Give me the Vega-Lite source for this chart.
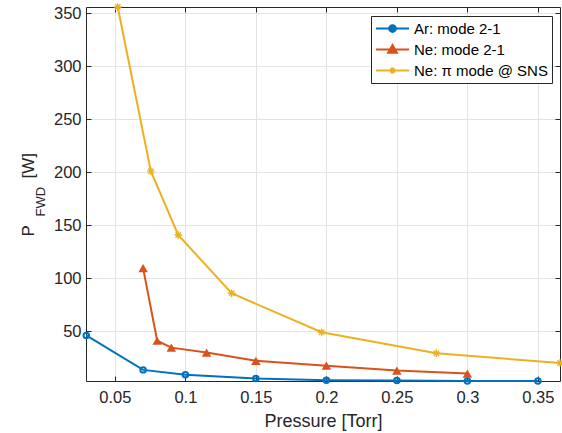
{
  "$schema": "https://vega.github.io/schema/vega-lite/v6.json",
  "width": 474,
  "height": 374,
  "autosize": {"type": "none"},
  "padding": {"left": 86, "top": 7, "right": 2, "bottom": 52},
  "background": "white",
  "config": {
    "view": {"stroke": null},
    "font": "Liberation Sans",
    "axis": {
      "domainColor": "#262626",
      "tickColor": "#262626",
      "labelColor": "#262626",
      "titleColor": "#262626",
      "labelFont": "Liberation Sans",
      "titleFont": "Liberation Sans",
      "labelFontSize": 16.5,
      "titleFontWeight": "normal",
      "gridColor": "#e3e3e3",
      "tickSize": -5,
      "domainWidth": 1,
      "tickWidth": 1
    }
  },
  "data": {
    "values": [
      {"series": "Ar: mode 2-1", "P": 0.0297, "W": 46},
      {"series": "Ar: mode 2-1", "P": 0.07, "W": 13.5},
      {"series": "Ar: mode 2-1", "P": 0.1, "W": 8.8},
      {"series": "Ar: mode 2-1", "P": 0.15, "W": 5.3},
      {"series": "Ar: mode 2-1", "P": 0.2, "W": 3.8},
      {"series": "Ar: mode 2-1", "P": 0.25, "W": 3.4},
      {"series": "Ar: mode 2-1", "P": 0.3, "W": 3.1},
      {"series": "Ar: mode 2-1", "P": 0.35, "W": 3.0},
      {"series": "Ne: mode 2-1", "P": 0.07, "W": 109.5},
      {"series": "Ne: mode 2-1", "P": 0.08, "W": 41},
      {"series": "Ne: mode 2-1", "P": 0.09, "W": 34.5},
      {"series": "Ne: mode 2-1", "P": 0.115, "W": 29.8},
      {"series": "Ne: mode 2-1", "P": 0.15, "W": 22},
      {"series": "Ne: mode 2-1", "P": 0.2, "W": 17.5},
      {"series": "Ne: mode 2-1", "P": 0.25, "W": 12.8},
      {"series": "Ne: mode 2-1", "P": 0.3, "W": 10},
      {"series": "Ne: π mode @ SNS", "P": 0.052, "W": 356},
      {"series": "Ne: π mode @ SNS", "P": 0.0755, "W": 201},
      {"series": "Ne: π mode @ SNS", "P": 0.0949, "W": 140.8},
      {"series": "Ne: π mode @ SNS", "P": 0.1328, "W": 85.8},
      {"series": "Ne: π mode @ SNS", "P": 0.1966, "W": 49},
      {"series": "Ne: π mode @ SNS", "P": 0.278, "W": 29.2},
      {"series": "Ne: π mode @ SNS", "P": 0.3657, "W": 20}
    ]
  },
  "resolve": {"axis": {"x": "independent", "y": "independent"}},
  "layer": [
    {
      "mark": {"type": "line", "strokeWidth": 2},
      "encoding": {
        "x": {
          "field": "P", "type": "quantitative",
          "scale": {"domain": [0.0295, 0.3657], "nice": false, "zero": false},
          "axis": {
            "title": "Pressure [Torr]", "titleFontSize": 18,
            "titleBaseline": "alphabetic", "titleY": 45.5,
            "values": [0.05, 0.1, 0.15, 0.2, 0.25, 0.3, 0.35],
            "format": "~g", "grid": true, "labelPadding": 13, "labelFlush": false
          }
        },
        "y": {
          "field": "W", "type": "quantitative",
          "scale": {"domain": [3, 356], "nice": false, "zero": false},
          "axis": {
            "title": "P", "titleFontSize": 17, "titleAngle": -90,
            "titleAlign": "left", "titleBaseline": "alphabetic",
            "titleX": -53, "titleY": 229,
            "values": [50, 100, 150, 200, 250, 300, 350],
            "grid": true, "labelPadding": 10
          }
        },
        "color": {
          "field": "series", "type": "nominal",
          "scale": {"domain": ["Ar: mode 2-1", "Ne: mode 2-1", "Ne: π mode @ SNS"], "range": ["#0072BD", "#D95319", "#EDB120"]},
          "legend": {
            "orient": "none", "legendX": 285, "legendY": 9, "title": null,
            "fillColor": "white", "strokeColor": "#262626", "padding": 4,
            "symbolSize": 225, "symbolStrokeWidth": 2, "labelOffset": 22,
            "labelFontSize": 15, "labelFont": "Liberation Sans", "labelColor": "black",
            "rowPadding": 4,
            "encode": {
              "symbols": {
                "update": {
                  "shape": {"signal": "datum.value === 'Ar: mode 2-1' ? 'M-1,0H3.4M1.2,-0.45A0.45,0.45,0,1,1,1.2,0.45A0.45,0.45,0,1,1,1.2,-0.45Z' : datum.value === 'Ne: mode 2-1' ? 'M-1,0H3.4M1.2,-0.6L1.78,0.42L0.62,0.42Z' : 'M-1,0H3.4M0.95,-0.3L1.45,0.3M0.95,0.3L1.45,-0.3M1.2,-0.4V0.4'"},
                  "fill": {"signal": "datum.value === 'Ne: mode 2-1' ? '#D95319' : 'transparent'"}
                }
              }
            }
          }
        }
      }
    },
    {
      "transform": [{"filter": "datum.series === 'Ar: mode 2-1'"}],
      "mark": {"type": "point", "shape": "circle", "filled": false, "size": 30, "strokeWidth": 2, "opacity": 1},
      "encoding": {
        "x": {"field": "P", "type": "quantitative", "axis": null},
        "y": {"field": "W", "type": "quantitative", "axis": null},
        "color": {"field": "series", "type": "nominal", "legend": null}
      }
    },
    {
      "transform": [{"filter": "datum.series === 'Ne: mode 2-1'"}],
      "mark": {"type": "point", "shape": "triangle-up", "filled": true, "size": 90, "strokeWidth": 1, "opacity": 1},
      "encoding": {
        "x": {"field": "P", "type": "quantitative", "axis": null},
        "y": {"field": "W", "type": "quantitative", "axis": null},
        "color": {"field": "series", "type": "nominal", "legend": null}
      }
    },
    {
      "transform": [{"filter": "datum.series === 'Ne: π mode @ SNS'"}],
      "mark": {"type": "point", "shape": "M-1,0H1M0,-1V1M-0.7,-0.7L0.7,0.7M-0.7,0.7L0.7,-0.7", "filled": false, "size": 60, "strokeWidth": 1.3, "opacity": 1},
      "encoding": {
        "x": {"field": "P", "type": "quantitative", "axis": null},
        "y": {"field": "W", "type": "quantitative", "axis": null},
        "color": {"field": "series", "type": "nominal", "legend": null}
      }
    },
    {
      "transform": [{"filter": "false"}],
      "mark": {"type": "point"},
      "encoding": {
        "x": {
          "field": "P", "type": "quantitative",
          "axis": {
            "orient": "top", "labels": false, "grid": false,
            "values": [0.05, 0.1, 0.15, 0.2, 0.25, 0.3, 0.35],
            "title": "[W]", "titleFontSize": 17, "titleAngle": -90,
            "titleAlign": "left", "titleBaseline": "alphabetic",
            "titleX": -53, "titleY": 171
          }
        },
        "y": {
          "field": "W", "type": "quantitative",
          "axis": {
            "orient": "right", "labels": false, "grid": false,
            "values": [50, 100, 150, 200, 250, 300, 350],
            "title": "FWD", "titleFontSize": 13, "titleAngle": -90,
            "titleAlign": "left", "titleBaseline": "alphabetic",
            "titleX": -516, "titleY": 209
          }
        }
      }
    }
  ]
}
